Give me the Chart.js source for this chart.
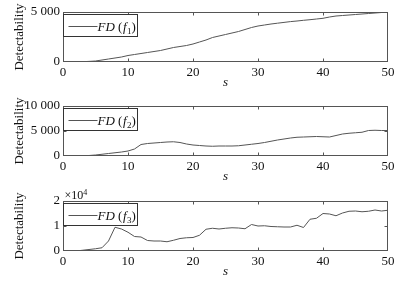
<!DOCTYPE html>
<html><head><meta charset="utf-8">
<script src="https://cdn.jsdelivr.net/npm/chart.js@4"></script>
<style>
html,body{margin:0;padding:0;background:#fff;width:412px;height:284px;overflow:hidden;}
canvas{position:absolute;left:0;}
</style></head><body>
<canvas id="c1" width="412" height="95" style="top:0"></canvas>
<canvas id="c2" width="412" height="95" style="top:94px"></canvas>
<canvas id="c3" width="412" height="95" style="top:189px"></canvas>
<script>
const s = [0,1,2,3,4,5,6,7,8,9,10,11,12,13,14,15,16,17,18,19,20,21,22,23,24,25,26,27,28,29,30,31,32,33,34,35,36,37,38,39,40,41,42,43,44,45,46,47,48,49,50];
const fd1 = [0,0,0,30,60,100,200,300,400,500,650,750,850,950,1050,1150,1300,1450,1550,1650,1800,2000,2200,2450,2600,2750,2900,3050,3250,3450,3600,3700,3800,3880,3960,4040,4100,4170,4230,4300,4370,4500,4600,4650,4700,4750,4800,4850,4900,4950,5000];
const fd2 = [0,0,0,50,100,200,350,500,650,800,1000,1400,2300,2500,2600,2700,2800,2850,2700,2400,2200,2100,2000,1950,2000,2000,2000,2050,2200,2350,2500,2700,2950,3200,3400,3600,3750,3800,3850,3900,3850,3800,4100,4400,4550,4650,4750,5100,5150,5100,5100];
const fd3 = [0,0,0,300,600,900,1300,4000,9500,8800,7500,5800,5600,4200,4000,4000,3700,4300,5000,5300,5400,6300,8700,9100,8800,9100,9300,9200,8900,10600,10000,10100,9800,9700,9600,9600,10300,9400,12700,13100,15000,14800,14100,15200,15900,16000,15700,15900,16400,16000,16300];
const xTicks = [0,10,20,30,40,50];
const yTicks1 = [0,5000], yLabels1 = ['0','5 000'];
const yTicks2 = [0,5000,10000], yLabels2 = ['0','5 000','10 000'];
const yTicks3 = [0,10000,20000], yLabels3 = ['0','1','2'];
const seriesNames = ['1','2','3'];
const xTitle = 's', yTitle = 'Detectability', exponentText = '×10', exponentPow = '4';

const SERIF = '"Liberation Serif", "Times New Roman", serif';

const framePlugin = {
  id: 'frame',
  afterDraw(chart, args, opts) {
    const ctx = chart.ctx, a = chart.chartArea;
    const L = Math.round(a.left)+0.5, R = Math.round(a.right)-0.5, T = Math.round(a.top)+0.5, B = Math.round(a.bottom)-0.5;
    ctx.save();
    ctx.strokeStyle = '#555'; ctx.lineWidth = 1;
    ctx.strokeRect(L, T, R-L, B-T);
    const xs = chart.scales.x, ys = chart.scales.y;
    ctx.beginPath();
    xTicks.forEach(v => { const px = Math.round(xs.getPixelForValue(v))+0.5; if (px>L+1 && px<R-1){ ctx.moveTo(px,B); ctx.lineTo(px,B-3); ctx.moveTo(px,T); ctx.lineTo(px,T+3);} });
    opts.yt.forEach(v => { const py = Math.round(ys.getPixelForValue(v))+0.5; if (py>T+1 && py<B-1){ ctx.moveTo(L,py); ctx.lineTo(L+3,py); ctx.moveTo(R,py); ctx.lineTo(R-3,py);} });
    ctx.stroke();
    const lx = L, ly = T+2, lw = 74, lh = 22;
    ctx.fillStyle = '#fff'; ctx.fillRect(lx, ly, lw, lh);
    ctx.strokeStyle = '#333'; ctx.strokeRect(lx, ly, lw, lh);
    const cy = Math.round(ly + lh/2)+0.5;
    ctx.strokeStyle = '#555';
    ctx.beginPath(); ctx.moveTo(lx+5, cy); ctx.lineTo(lx+34, cy); ctx.stroke();
    ctx.fillStyle = '#111'; ctx.textBaseline = 'alphabetic';
    let tx = lx+34; const by = ly + 16;
    ctx.font = 'italic 13px ' + SERIF; ctx.fillText('FD', tx, by); tx += ctx.measureText('FD ').width;
    ctx.font = '13px ' + SERIF; ctx.fillText('(', tx, by); tx += ctx.measureText('(').width + 0.5;
    ctx.font = 'italic 13px ' + SERIF; ctx.fillText('f', tx, by); tx += ctx.measureText('f').width + 0.5;
    ctx.font = '9px ' + SERIF; ctx.fillText(opts.name, tx, by+3); tx += ctx.measureText(opts.name).width;
    ctx.font = '13px ' + SERIF; ctx.fillText(')', tx, by);
    if (opts.exp) {
      ctx.font = '12px ' + SERIF; ctx.fillText(exponentText, L+1, T-3);
      const w = ctx.measureText(exponentText).width;
      ctx.font = '8px ' + SERIF; ctx.fillText(exponentPow, L+1+w, T-7);
    }
    ctx.restore();
  }
};

function makeChart(id, values, yt, yl, ymax, name, exp) {
  new Chart(document.getElementById(id), {
    type: 'line',
    data: { datasets: [{ data: s.map((x,i)=>({x:x, y:values[i]})), borderColor:'#555', borderWidth:1, pointRadius:0, tension:0, fill:false }] },
    options: {
      responsive:false, animation:false, events:[],
      layout: { padding: { left:0, right:24, top:12, bottom:0 } },
      plugins: { legend:{display:false}, tooltip:{enabled:false}, frame:{yt:yt, name:name, exp:exp} },
      scales: {
        x: { type:'linear', min:0, max:50,
             afterBuildTicks: sc => { sc.ticks = xTicks.map(v=>({value:v})); },
             afterFit: sc => { sc.height = 33; },
             grid:{display:false, drawTicks:false}, border:{display:false},
             ticks:{ padding:3, color:'#111', font:{family:SERIF, size:13}, maxRotation:0, callback:v=>String(v) },
             title:{ display:true, text:xTitle, color:'#111', font:{family:SERIF, size:13, style:'italic'}, padding:{top:0,bottom:5} } },
        y: { min:0, max:ymax,
             afterBuildTicks: sc => { sc.ticks = yt.map(v=>({value:v})); },
             afterFit: sc => { sc.width = 63; },
             grid:{display:false, drawTicks:false}, border:{display:false},
             ticks:{ padding:3, color:'#111', font:{family:SERIF, size:13}, callback:(v)=>yl[yt.indexOf(v)] },
             title:{ display:true, text:yTitle, color:'#111', font:{family:SERIF, size:13}, padding:{top:12,bottom:0} } }
      }
    },
    plugins:[framePlugin]
  });
}
function drawAll() {
  makeChart('c1', fd1, yTicks1, yLabels1, 5000, seriesNames[0], false);
  makeChart('c2', fd2, yTicks2, yLabels2, 10000, seriesNames[1], false);
  makeChart('c3', fd3, yTicks3, yLabels3, 20000, seriesNames[2], true);
}
Promise.all([
  document.fonts.load('13px "Liberation Serif"'),
  document.fonts.load('italic 13px "Liberation Serif"')
]).then(drawAll, drawAll);
</script>
</body></html>
